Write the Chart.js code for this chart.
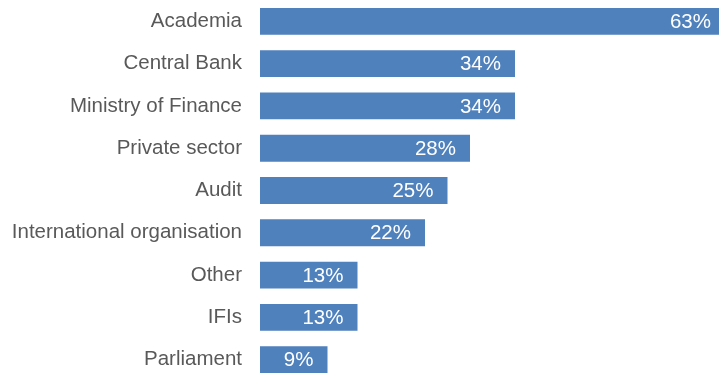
<!DOCTYPE html>
<html>
<head>
<meta charset="utf-8">
<script src="https://cdn.jsdelivr.net/npm/chart.js@4/dist/chart.umd.min.js"></script>
<style>
  html, body { margin: 0; padding: 0; background: #fff; overflow: hidden; }
  #wrap { position: relative; width: 740px; height: 441px; margin-top: -30px; }
</style>
</head>
<body>
<div id="wrap"><canvas id="barChart" width="740" height="441"></canvas></div>
<script>
const categories = [
  "Academia",
  "Central Bank",
  "Ministry of Finance",
  "Private sector",
  "Audit",
  "International organisation",
  "Other",
  "IFIs",
  "Parliament"
];
const shares = [63, 34, 34, 28, 25, 22, 13, 13, 9];

// white percentage labels drawn inside the end of each bar
// (kept inside the visible page for the longest bar)
const valueLabels = {
  id: "valueLabels",
  afterDatasetsDraw(chart) {
    const ctx = chart.ctx;
    const meta = chart.getDatasetMeta(0);
    const rightLimit = window.innerWidth - 8;
    ctx.save();
    ctx.font = "20.5px 'Liberation Sans', Arial, sans-serif";
    ctx.fillStyle = "#ffffff";
    ctx.textAlign = "right";
    ctx.textBaseline = "middle";
    meta.data.forEach(function (bar, i) {
      ctx.fillText(shares[i] + "%", Math.min(bar.x - 14, rightLimit), bar.y + 1);
    });
    ctx.restore();
  }
};

var ctx = document.getElementById("barChart").getContext("2d");
var myChart = new Chart(ctx, {
  type: "bar",
  data: {
    labels: categories,
    datasets: [
      {
        data: shares,
        backgroundColor: "#4f81bd",
        borderWidth: 0,
        barPercentage: 0.634,
        categoryPercentage: 1
      }
    ]
  },
  options: {
    indexAxis: "y",
    responsive: false,
    animation: false,
    layout: { padding: 0 },
    plugins: {
      legend: { display: false },
      tooltip: { enabled: false }
    },
    scales: {
      x: {
        display: false,
        min: 0,
        max: 64
      },
      y: {
        afterFit: function (scale) { scale.width = 260; },
        grid: { display: false, drawTicks: false },
        border: { display: false },
        ticks: {
          padding: 18,
          color: "#595959",
          font: { family: "'Liberation Sans', Arial, sans-serif", size: 20.5 }
        }
      }
    }
  },
  plugins: [valueLabels]
});
</script>
</body>
</html>
